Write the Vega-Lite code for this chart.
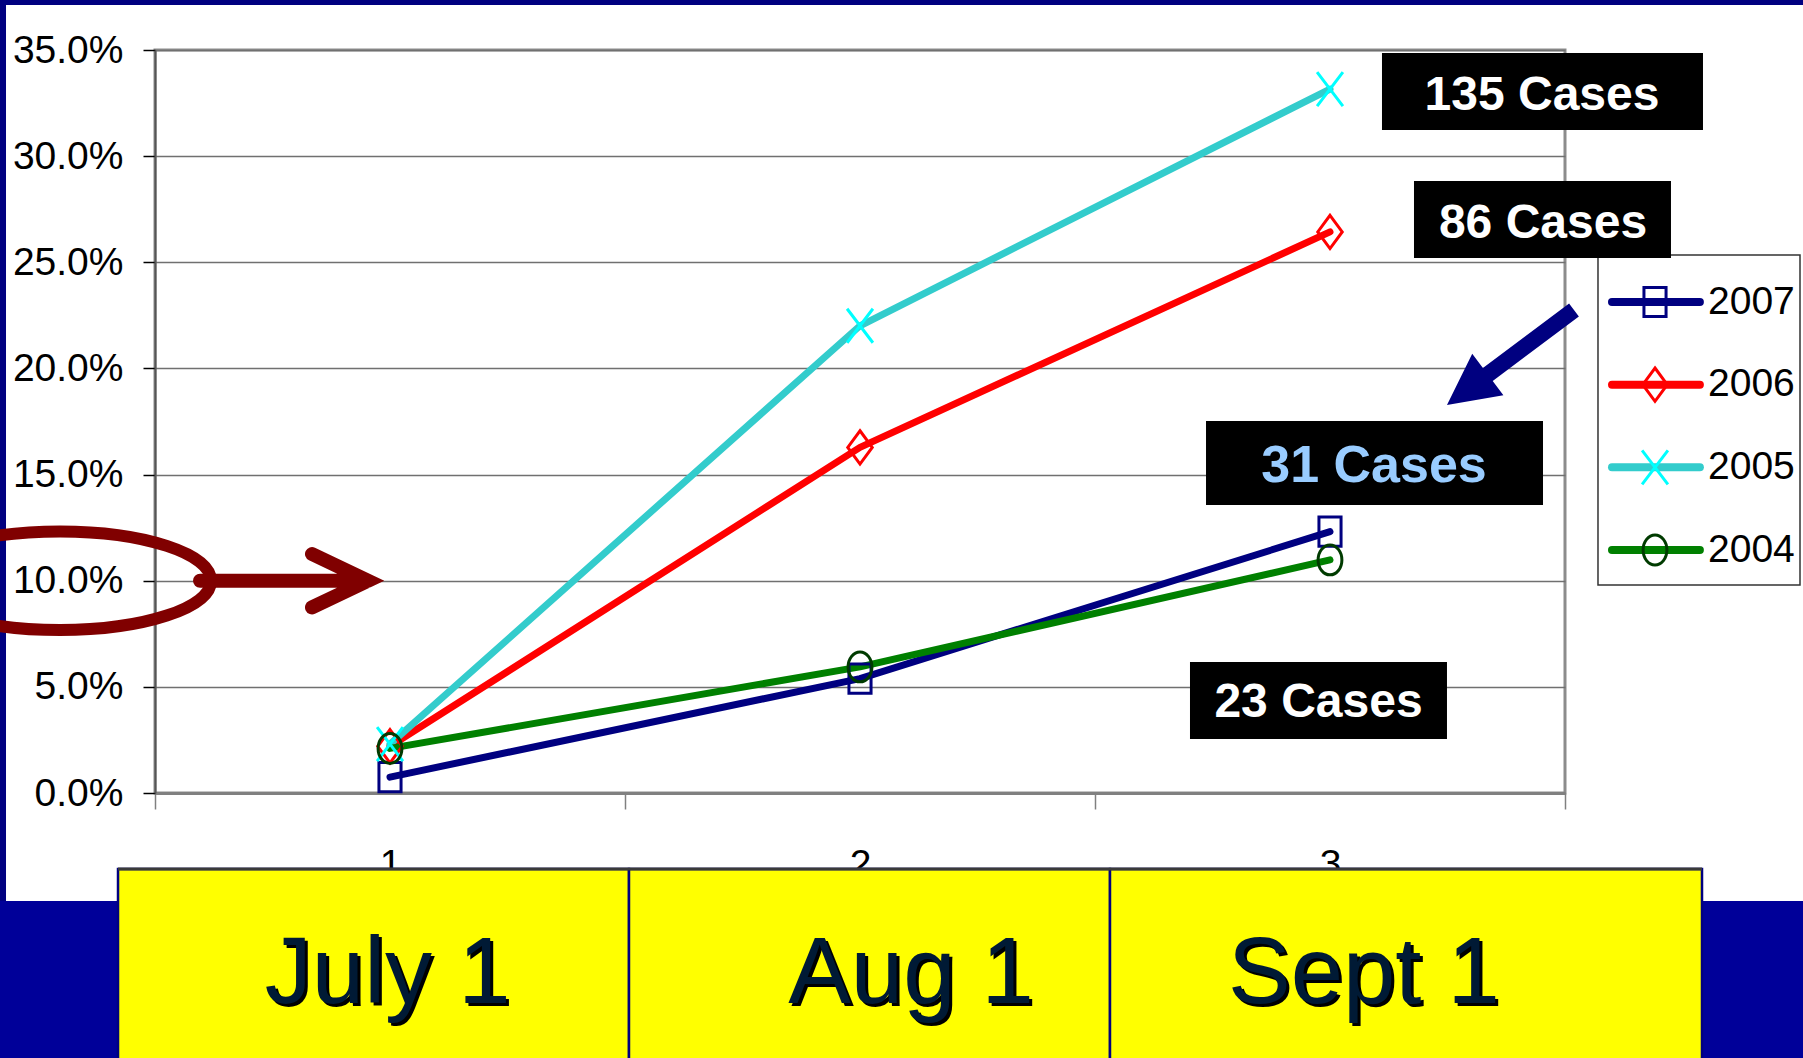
{
  "$schema": "https://vega.github.io/schema/vega-lite/v6.json",
  "width": 1410,
  "height": 743,
  "autosize": {"type": "none"},
  "padding": {"left": 155, "top": 50, "right": 238, "bottom": 265},
  "background": "white",
  "config": {"view": {"stroke": "#8c8c8c", "strokeWidth": 3}},
  "datasets": {
    "rates": [
      {"year": "2007", "month": "1", "pct": 0.75},
      {"year": "2007", "month": "2", "pct": 5.39},
      {"year": "2007", "month": "3", "pct": 12.31},
      {"year": "2006", "month": "1", "pct": 2.2},
      {"year": "2006", "month": "2", "pct": 16.28},
      {"year": "2006", "month": "3", "pct": 26.43},
      {"year": "2005", "month": "1", "pct": 2.3},
      {"year": "2005", "month": "2", "pct": 22.01},
      {"year": "2005", "month": "3", "pct": 33.16},
      {"year": "2004", "month": "1", "pct": 2.1},
      {"year": "2004", "month": "2", "pct": 5.94},
      {"year": "2004", "month": "3", "pct": 10.98}
    ]
  },
  "layer": [
    {
      "data": {"name": "rates"},
      "encoding": {
        "x": {
          "field": "month", "type": "ordinal", "bandPosition": 0.5,
          "scale": {"type": "band", "paddingInner": 0, "paddingOuter": 0},
          "axis": {"title": null, "labelAngle": 0, "tickBand": "extent", "grid": false,
            "domainColor": "#808080", "domainWidth": 3, "tickColor": "#808080", "tickWidth": 1.5, "tickSize": 16,
            "labelFont": "Liberation Sans", "labelFontSize": 39, "labelColor": "black", "labelPadding": 36}
        },
        "y": {
          "field": "pct", "type": "quantitative",
          "scale": {"domain": [0, 35], "nice": false, "zero": false},
          "axis": {"title": null, "values": [0, 5, 10, 15, 20, 25, 30, 35],
            "labelExpr": "format(datum.value, '.1f') + '%'",
            "grid": true, "gridColor": "#707070", "gridWidth": 1.5,
            "domainColor": "#555555", "domainWidth": 2, "tickColor": "black", "tickWidth": 1.5, "tickSize": 12,
            "labelFont": "Liberation Sans", "labelFontSize": 39, "labelColor": "black", "labelPadding": 20, "labelOverlap": false}
        }
      },
      "layer": [
        {
          "mark": {"type": "line", "strokeWidth": 7, "strokeCap": "round", "strokeJoin": "round"},
          "encoding": {
            "color": {"field": "year", "type": "nominal", "legend": null,
              "scale": {"domain": ["2007", "2006", "2005", "2004"], "range": ["#000080", "#ff0000", "#33cccc", "#008000"]}}
          }
        },
        {
          "mark": {"type": "point", "filled": false, "strokeWidth": 3, "size": 1156, "opacity": 1},
          "encoding": {
            "shape": {"field": "year", "type": "nominal", "legend": null,
              "scale": {"domain": ["2007", "2006", "2005", "2004"], "range": [
                "M-0.65,-0.86L0.65,-0.86L0.65,0.86L-0.65,0.86Z",
                "M0,-0.98L0.72,0L0,0.98L-0.72,0Z",
                "M-0.76,-1L0.76,1M-0.76,1L0.76,-1",
                "M0.7,0C0.7,0.486,0.3866,0.88,0,0.88C-0.3866,0.88,-0.7,0.486,-0.7,0C-0.7,-0.486,-0.3866,-0.88,0,-0.88C0.3866,-0.88,0.7,-0.486,0.7,0Z"
              ]}},
            "stroke": {"field": "year", "type": "nominal", "legend": null,
              "scale": {"domain": ["2007", "2006", "2005", "2004"], "range": ["#000080", "#ff0000", "#00ffff", "#003b00"]}}
          }
        }
      ]
    },
    {
      "data": {"values": [{}]},
      "layer": [
        {"mark": {"type": "rect", "color": "#000080"}, "encoding": {
          "x": {"datum": 0, "type": "quantitative", "scale": {"domain": [0.5, 3.5]}, "axis": null}, "x2": {"datum": 5},
          "y": {"datum": 37.12, "type": "quantitative", "scale": {"domain": [0, 35]}, "axis": null}, "y2": {"datum": 40}}},
        {"mark": {"type": "rect", "color": "#000080"}, "encoding": {
          "x": {"datum": 0, "type": "quantitative", "scale": {"domain": [0.5, 3.5]}, "axis": null}, "x2": {"datum": 0.183},
          "y": {"datum": -15, "type": "quantitative", "scale": {"domain": [0, 35]}, "axis": null}, "y2": {"datum": 40}}},
        {"mark": {"type": "rect", "color": "#000099"}, "encoding": {
          "x": {"datum": 0, "type": "quantitative", "scale": {"domain": [0.5, 3.5]}, "axis": null}, "x2": {"datum": 5},
          "y": {"datum": -15, "type": "quantitative", "scale": {"domain": [0, 35]}, "axis": null}, "y2": {"datum": -5.087}}},
        {"mark": {"type": "rect", "fill": "#ffff00", "stroke": "#000080", "strokeWidth": 2.5}, "encoding": {
          "x": {"datum": 0.4213, "type": "quantitative", "scale": {"domain": [0.5, 3.5]}, "axis": null}, "x2": {"datum": 1.5085},
          "y": {"datum": -15, "type": "quantitative", "scale": {"domain": [0, 35]}, "axis": null}, "y2": {"datum": -3.58}}},
        {"mark": {"type": "rect", "fill": "#ffff00", "stroke": "#000080", "strokeWidth": 2.5}, "encoding": {
          "x": {"datum": 1.5085, "type": "quantitative", "scale": {"domain": [0.5, 3.5]}, "axis": null}, "x2": {"datum": 2.5319},
          "y": {"datum": -15, "type": "quantitative", "scale": {"domain": [0, 35]}, "axis": null}, "y2": {"datum": -3.58}}},
        {"mark": {"type": "rect", "fill": "#ffff00", "stroke": "#000080", "strokeWidth": 2.5}, "encoding": {
          "x": {"datum": 2.5319, "type": "quantitative", "scale": {"domain": [0.5, 3.5]}, "axis": null}, "x2": {"datum": 3.7915},
          "y": {"datum": -15, "type": "quantitative", "scale": {"domain": [0, 35]}, "axis": null}, "y2": {"datum": -3.58}}},
        {"mark": {"type": "rule", "color": "#3a3a3a", "strokeWidth": 3}, "encoding": {
          "x": {"datum": 0.4213, "type": "quantitative", "scale": {"domain": [0.5, 3.5]}, "axis": null}, "x2": {"datum": 3.7915},
          "y": {"datum": -3.58, "type": "quantitative", "scale": {"domain": [0, 35]}, "axis": null}}},
        {"mark": {"type": "text", "text": "July 1", "font": "Liberation Sans", "fontSize": 94, "color": "black", "align": "center", "baseline": "alphabetic", "dx": 3, "dy": 3}, "encoding": {
          "x": {"datum": 0.995, "type": "quantitative", "scale": {"domain": [0.5, 3.5]}, "axis": null},
          "y": {"datum": -9.892, "type": "quantitative", "scale": {"domain": [0, 35]}, "axis": null}}},
        {"mark": {"type": "text", "text": "Aug 1", "font": "Liberation Sans", "fontSize": 94, "color": "black", "align": "center", "baseline": "alphabetic", "dx": 3, "dy": 3}, "encoding": {
          "x": {"datum": 2.1085, "type": "quantitative", "scale": {"domain": [0.5, 3.5]}, "axis": null},
          "y": {"datum": -9.892, "type": "quantitative", "scale": {"domain": [0, 35]}, "axis": null}}},
        {"mark": {"type": "text", "text": "Sept 1", "font": "Liberation Sans", "fontSize": 94, "color": "black", "align": "center", "baseline": "alphabetic", "dx": 3, "dy": 3}, "encoding": {
          "x": {"datum": 3.0723, "type": "quantitative", "scale": {"domain": [0.5, 3.5]}, "axis": null},
          "y": {"datum": -9.892, "type": "quantitative", "scale": {"domain": [0, 35]}, "axis": null}}},
        {"mark": {"type": "text", "text": "July 1", "font": "Liberation Sans", "fontSize": 94, "color": "#001a35", "align": "center", "baseline": "alphabetic"}, "encoding": {
          "x": {"datum": 0.995, "type": "quantitative", "scale": {"domain": [0.5, 3.5]}, "axis": null},
          "y": {"datum": -9.892, "type": "quantitative", "scale": {"domain": [0, 35]}, "axis": null}}},
        {"mark": {"type": "text", "text": "Aug 1", "font": "Liberation Sans", "fontSize": 94, "color": "#001a35", "align": "center", "baseline": "alphabetic"}, "encoding": {
          "x": {"datum": 2.1085, "type": "quantitative", "scale": {"domain": [0.5, 3.5]}, "axis": null},
          "y": {"datum": -9.892, "type": "quantitative", "scale": {"domain": [0, 35]}, "axis": null}}},
        {"mark": {"type": "text", "text": "Sept 1", "font": "Liberation Sans", "fontSize": 94, "color": "#001a35", "align": "center", "baseline": "alphabetic"}, "encoding": {
          "x": {"datum": 3.0723, "type": "quantitative", "scale": {"domain": [0.5, 3.5]}, "axis": null},
          "y": {"datum": -9.892, "type": "quantitative", "scale": {"domain": [0, 35]}, "axis": null}}},
        {"mark": {"type": "rect", "fill": "white", "stroke": "#333333", "strokeWidth": 1.5}, "encoding": {
          "x": {"datum": 3.5702, "type": "quantitative", "scale": {"domain": [0.5, 3.5]}, "axis": null}, "x2": {"datum": 4.0},
          "y": {"datum": 9.798, "type": "quantitative", "scale": {"domain": [0, 35]}, "axis": null}, "y2": {"datum": 25.343}}},
        {"mark": {"type": "rect", "color": "black"}, "encoding": {
          "x": {"datum": 3.1106, "type": "quantitative", "scale": {"domain": [0.5, 3.5]}, "axis": null}, "x2": {"datum": 3.7936},
          "y": {"datum": 31.231, "type": "quantitative", "scale": {"domain": [0, 35]}, "axis": null}, "y2": {"datum": 34.859}}},
        {"mark": {"type": "rect", "color": "black"}, "encoding": {
          "x": {"datum": 3.1787, "type": "quantitative", "scale": {"domain": [0.5, 3.5]}, "axis": null}, "x2": {"datum": 3.7255},
          "y": {"datum": 25.202, "type": "quantitative", "scale": {"domain": [0, 35]}, "axis": null}, "y2": {"datum": 28.829}}},
        {"mark": {"type": "rect", "color": "black"}, "encoding": {
          "x": {"datum": 2.7362, "type": "quantitative", "scale": {"domain": [0.5, 3.5]}, "axis": null}, "x2": {"datum": 3.4532},
          "y": {"datum": 13.567, "type": "quantitative", "scale": {"domain": [0, 35]}, "axis": null}, "y2": {"datum": 17.524}}},
        {"mark": {"type": "rect", "color": "black"}, "encoding": {
          "x": {"datum": 2.7021, "type": "quantitative", "scale": {"domain": [0.5, 3.5]}, "axis": null}, "x2": {"datum": 3.2489},
          "y": {"datum": 2.544, "type": "quantitative", "scale": {"domain": [0, 35]}, "axis": null}, "y2": {"datum": 6.171}}},
        {"mark": {"type": "text", "text": "135 Cases", "font": "Liberation Sans", "fontWeight": "bold", "fontSize": 48, "color": "white", "align": "center", "baseline": "alphabetic"}, "encoding": {
          "x": {"datum": 3.4511, "type": "quantitative", "scale": {"domain": [0.5, 3.5]}, "axis": null},
          "y": {"datum": 32.174, "type": "quantitative", "scale": {"domain": [0, 35]}, "axis": null}}},
        {"mark": {"type": "text", "text": "86 Cases", "font": "Liberation Sans", "fontWeight": "bold", "fontSize": 48, "color": "white", "align": "center", "baseline": "alphabetic"}, "encoding": {
          "x": {"datum": 3.4532, "type": "quantitative", "scale": {"domain": [0.5, 3.5]}, "axis": null},
          "y": {"datum": 26.144, "type": "quantitative", "scale": {"domain": [0, 35]}, "axis": null}}},
        {"mark": {"type": "text", "text": "31 Cases", "font": "Liberation Sans", "fontWeight": "bold", "fontSize": 52, "color": "#99ccff", "align": "center", "baseline": "alphabetic"}, "encoding": {
          "x": {"datum": 3.0936, "type": "quantitative", "scale": {"domain": [0.5, 3.5]}, "axis": null},
          "y": {"datum": 14.65, "type": "quantitative", "scale": {"domain": [0, 35]}, "axis": null}}},
        {"mark": {"type": "text", "text": "23 Cases", "font": "Liberation Sans", "fontWeight": "bold", "fontSize": 48, "color": "white", "align": "center", "baseline": "alphabetic"}, "encoding": {
          "x": {"datum": 2.9755, "type": "quantitative", "scale": {"domain": [0.5, 3.5]}, "axis": null},
          "y": {"datum": 3.58, "type": "quantitative", "scale": {"domain": [0, 35]}, "axis": null}}},
        {"mark": {"type": "point", "shape": "M1,0C1,0.1803,0.5523,0.3265,0,0.3265C-0.5523,0.3265,-1,0.1803,-1,0C-1,-0.1803,-0.5523,-0.3265,0,-0.3265C0.5523,-0.3265,1,-0.1803,1,0Z", "size": 91204, "filled": false, "stroke": "#800000", "strokeWidth": 12, "opacity": 1}, "encoding": {
          "x": {"datum": 0.2979, "type": "quantitative", "scale": {"domain": [0.5, 3.5]}, "axis": null},
          "y": {"datum": 10, "type": "quantitative", "scale": {"domain": [0, 35]}, "axis": null}}},
        {"mark": {"type": "point", "shape": "M-1,0L1,0M0.333,-0.318L1,0L0.333,0.318", "size": 28224, "filled": false, "stroke": "#800000", "strokeWidth": 14, "strokeCap": "round", "strokeJoin": "miter", "opacity": 1}, "encoding": {
          "x": {"datum": 0.7745, "type": "quantitative", "scale": {"domain": [0.5, 3.5]}, "axis": null},
          "y": {"datum": 10, "type": "quantitative", "scale": {"domain": [0, 35]}, "axis": null}}},
        {"mark": {"type": "point", "shape": "M-1,-0.103L0.357,-0.103L0.357,-0.328L1,0L0.357,0.328L0.357,0.103L-1,0.103Z", "size": 25154, "angle": 143.2, "filled": true, "color": "#000080", "opacity": 1}, "encoding": {
          "x": {"datum": 3.384, "type": "quantitative", "scale": {"domain": [0.5, 3.5]}, "axis": null},
          "y": {"datum": 20.515, "type": "quantitative", "scale": {"domain": [0, 35]}, "axis": null}}}
      ]
    },
    {
      "data": {"name": "rates"},
      "transform": [{"filter": "datum.month == '1'"}],
      "encoding": {
        "y": {"field": "year", "type": "nominal", "axis": null,
          "scale": {"type": "point", "domain": ["2007", "2006", "2005", "2004"], "range": [252, 500], "padding": 0}}
      },
      "layer": [
        {"mark": {"type": "rule", "strokeWidth": 8, "strokeCap": "round"}, "encoding": {
          "x": {"datum": 3.6, "type": "quantitative", "scale": {"domain": [0.5, 3.5]}, "axis": null}, "x2": {"datum": 3.787},
          "color": {"field": "year", "type": "nominal", "legend": null,
            "scale": {"domain": ["2007", "2006", "2005", "2004"], "range": ["#000080", "#ff0000", "#33cccc", "#008000"]}}}},
        {"mark": {"type": "point", "filled": false, "strokeWidth": 3, "size": 1156, "opacity": 1}, "encoding": {
          "x": {"datum": 3.6915, "type": "quantitative", "scale": {"domain": [0.5, 3.5]}, "axis": null},
          "shape": {"field": "year", "type": "nominal", "legend": null,
            "scale": {"domain": ["2007", "2006", "2005", "2004"], "range": [
              "M-0.65,-0.86L0.65,-0.86L0.65,0.86L-0.65,0.86Z",
              "M0,-0.98L0.72,0L0,0.98L-0.72,0Z",
              "M-0.76,-1L0.76,1M-0.76,1L0.76,-1",
              "M0.7,0C0.7,0.486,0.3866,0.88,0,0.88C-0.3866,0.88,-0.7,0.486,-0.7,0C-0.7,-0.486,-0.3866,-0.88,0,-0.88C0.3866,-0.88,0.7,-0.486,0.7,0Z"
            ]}},
          "stroke": {"field": "year", "type": "nominal", "legend": null,
            "scale": {"domain": ["2007", "2006", "2005", "2004"], "range": ["#000080", "#ff0000", "#00ffff", "#003b00"]}}}},
        {"mark": {"type": "text", "align": "left", "baseline": "alphabetic", "dy": 11.6, "font": "Liberation Sans", "fontSize": 39, "color": "black"}, "encoding": {
          "x": {"datum": 3.8043, "type": "quantitative", "scale": {"domain": [0.5, 3.5]}, "axis": null},
          "text": {"field": "year"}}}
      ]
    }
  ],
  "resolve": {"scale": {"x": "independent", "y": "independent", "color": "independent", "shape": "independent", "stroke": "independent"}}
}
